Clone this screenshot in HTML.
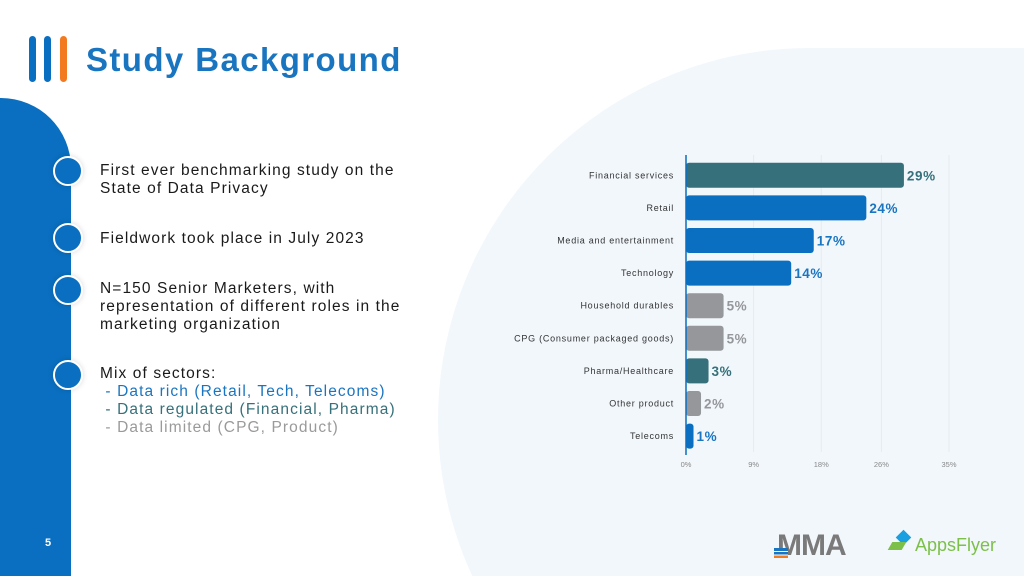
<!DOCTYPE html>
<html style="overflow:hidden;width:1024px;height:576px"><head><meta charset="utf-8"><style>
html,body{margin:0;width:1024px;height:576px;overflow:hidden}
body{background:#fff;font-family:"Liberation Sans",sans-serif;position:relative}
#wrap{position:absolute;left:0;top:0;width:1024px;height:576px;overflow:hidden}
.abs{position:absolute}
.bar3{position:absolute;top:36px;width:7px;height:46px;border-radius:4px}
.dot{position:absolute;left:53px;width:26px;height:26px;border-radius:50%;background:#0a6fc0;border:2px solid #fff;box-shadow:0 0 6px rgba(0,0,0,.15)}
.txt{position:absolute;left:100px;font-size:15.5px;line-height:18px;color:#1a1a1a;letter-spacing:1.1px;white-space:nowrap}
</style></head><body>
<div id="wrap">
<svg class="abs" style="left:0;top:0" width="1024" height="576">
<path d="M472.3 576 A372 372 0 0 1 810 48 L1024 48 L1024 576 Z" fill="#f2f7fc"/>
<path d="M0 576 L0 98 L1 98 A70 70 0 0 1 71 168 L71 576 Z" fill="#0a6fc0"/>
</svg>
<div class="bar3" style="left:29px;background:#0a6fc0"></div>
<div class="bar3" style="left:44px;background:#0a6fc0"></div>
<div class="bar3" style="left:60px;background:#f47a20"></div>
<div class="abs" style="left:86px;top:41px;font-size:33px;font-weight:bold;color:#1a75c1;letter-spacing:1.4px;white-space:nowrap">Study Background</div>
<div class="dot" style="top:156px"></div>
<div class="dot" style="top:223px"></div>
<div class="dot" style="top:275px"></div>
<div class="dot" style="top:360px"></div>
<div class="txt" style="top:162px">First ever benchmarking study on the<br>State of Data Privacy</div>
<div class="txt" style="top:230px">Fieldwork took place in July 2023</div>
<div class="txt" style="top:280px">N=150 Senior Marketers, with<br>representation of different roles in the<br>marketing organization</div>
<div class="txt" style="top:365px">Mix of sectors:<br><span style="color:#1a75c1">&nbsp;- Data rich (Retail, Tech, Telecoms)</span><br><span style="color:#36707a">&nbsp;- Data regulated (Financial, Pharma)</span><br><span style="color:#9a9a9a">&nbsp;- Data limited (CPG, Product)</span></div>
<div class="abs" style="left:45px;top:537px;font-size:11px;font-weight:bold;color:#fff">5</div>
<svg class="abs" style="left:0;top:0" width="1024" height="576"><g id="chart"></g></svg>
<div class="abs" style="left:777px;top:530px;font-size:30px;line-height:32px;font-weight:bold;color:#7a7a7a;letter-spacing:-1px">MMA</div>
<div class="abs" style="left:774px;top:548px;width:14px;height:10px;background:linear-gradient(#1a75c1 0 30%,#fff 30% 40%,#1a75c1 40% 65%,#fff 65% 75%,#f47a20 75%)"></div>
<div class="abs" style="left:890px;top:532px;width:22px;height:22px;"><div style="position:absolute;left:8px;top:0;width:11px;height:11px;background:#1aa0e0;transform:rotate(45deg)"></div><div style="position:absolute;left:0;top:10px;width:14px;height:8px;background:#7cc04a;transform:skewX(-30deg)"></div></div>
<div class="abs" style="left:915px;top:535px;font-size:18px;line-height:20px;color:#7cc04a">AppsFlyer</div>
</div>
<script>
const categories=["Financial services","Retail","Media and entertainment","Technology","Household durables","CPG (Consumer packaged goods)","Pharma/Healthcare","Other product","Telecoms"];
const values=[29,24,17,14,5,5,3,2,1];
const groups=["reg","rich","rich","rich","lim","lim","reg","lim","rich"];
const ticks=[0,9,18,26,35];
const tickLabels=["0%","9%","18%","26%","35%"];
const NS="http://www.w3.org/2000/svg";
const g=document.getElementById('chart');
const x0=686,x1=949,xmax=35,yTop=159,step=32.6,bh=25;
const x=v=>x0+(v/xmax)*(x1-x0);
const yc=i=>yTop+step*i+step/2;
const fill={reg:"#36707a",rich:"#0a6fc0",lim:"#95979a"};
const tcol={reg:"#36707a",rich:"#1a75c1",lim:"#95979a"};
function mk(t,a){const e=document.createElementNS(NS,t);for(const k in a)e.setAttribute(k,a[k]);g.appendChild(e);return e;}
ticks.forEach((t,i)=>{
  if(i>0){const l=mk('line',{x1:x(t),x2:x(t),y1:155,y2:452,stroke:'#e6ebf0','stroke-width':1});
  
  }
  const tx=mk('text',{x:x(t),y:467,'font-size':7.5,fill:'#888','text-anchor':'middle','font-family':'Liberation Sans, sans-serif'});
  tx.textContent=tickLabels[i];
  
  
});
values.forEach((v,i)=>{
  const c=groups[i];
  const r=mk('rect',{x:x0,y:yc(i)-bh/2,width:x(v)-x0,height:bh,rx:3,fill:fill[c]});
  
  
  const lb=mk('text',{x:674,y:yc(i)+3,'font-size':9,fill:'#333','text-anchor':'end','letter-spacing':0.75,'font-family':'Liberation Sans, sans-serif'});
  lb.textContent=categories[i];
  
  
  const vl=mk('text',{x:x(v)+3,y:yc(i)+5,'font-size':13.5,'font-weight':'bold',fill:tcol[c],'letter-spacing':0.6,'font-family':'Liberation Sans, sans-serif'});
  vl.textContent=v+'%';
  
  
});
const ax=mk('line',{x1:x0,x2:x0,y1:155,y2:455,stroke:'#0a6fc0','stroke-width':1.5});


</script>
</body></html>
